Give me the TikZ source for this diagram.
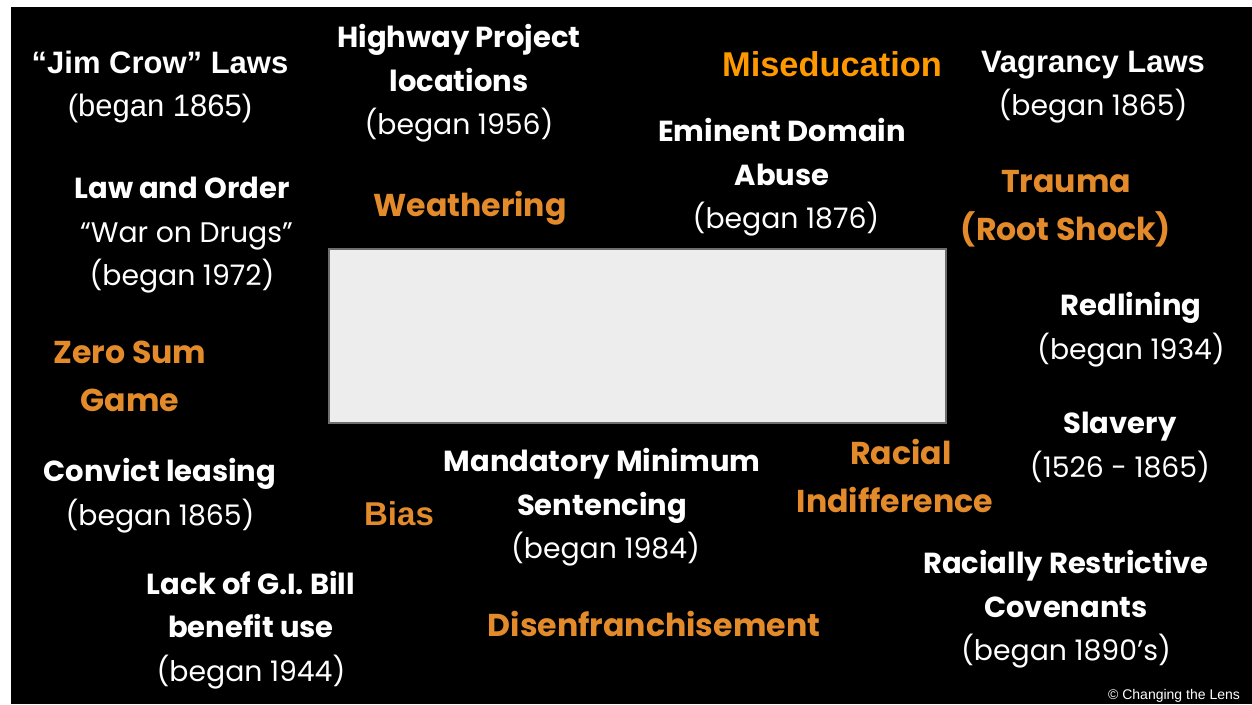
\documentclass[tikz,border=0pt]{standalone}
\usepackage{fontspec}
\setmainfont{Poppins}
\newfontfamily\arialf{Liberation Sans}
\definecolor{orA}{HTML}{FF9900}
\definecolor{orB}{HTML}{E38A2B}
\definecolor{boxfill}{HTML}{EDEDED}
\definecolor{boxline}{HTML}{6E6E6E}
\newcommand\boldline[1]{{\bfseries\fontsize{29}{43.5}\selectfont #1}}
\tikzset{
  lbl/.style={text=white, align=center, inner sep=0pt, font=\fontsize{28.3}{43.5}\selectfont},
  arl/.style={text=white, align=center, inner sep=0pt, font=\arialf\fontsize{31}{43}\selectfont},
  orw/.style={text=orB, align=center, inner sep=0pt, font=\bfseries\fontsize{31.6}{48}\selectfont},
  ora/.style={text=orA, align=center, inner sep=0pt, font=\arialf\bfseries\fontsize{34.4}{48}\selectfont},
  orab/.style={text=orB, align=center, inner sep=0pt, font=\arialf\bfseries\fontsize{33}{48}\selectfont},
}
\begin{document}
\begin{tikzpicture}[x=1pt,y=-1pt]
\useasboundingbox (0,0) rectangle (1252,704);
\fill[white] (0,0) rectangle (1252,704);
\fill[black] (11,7) rectangle (1252,704);
\node[draw=boxline, line width=1.5pt, fill=boxfill, minimum width=617pt, minimum height=174pt, inner sep=0pt] (box) at (637.5,336) {};

\node[arl] (jim) at (160,87) {{\bfseries “Jim Crow” Laws}\\(began 1865)};
\node[lbl] (highway) at (459,83.5) {\boldline{Highway Project}\\\boldline{locations}\\(began 1956)};
\node[ora] (misedu) at (832,64) {Miseducation};
\node[lbl] (vagrancy) at (1093,87) {{\arialf\bfseries\fontsize{31}{43}\selectfont Vagrancy Laws}\\(began 1865)};
\node[lbl] (eminent) at (782,177.5) {\boldline{Eminent Domain}\\\boldline{Abuse}\\\hspace*{8pt}(began 1876)};
\node[lbl] (law) at (182,235.5) {\boldline{Law and Order}\\\hspace*{9pt}“War on Drugs”\\(began 1972)};
\node[orw] (weathering) at (470,208) {Weathering};
\node[orw] (trauma) at (1066,209) {Trauma\\(Root Shock)};
\node[lbl] (redlining) at (1131,329.5) {\boldline{Redlining}\\(began 1934)};
\node[orw] (zerosum) at (130,376) {Zero Sum\\Game};
\node[lbl] (slavery) at (1120,447.5) {\boldline{Slavery}\\(1526 - 1865)};
\node[orw] (racial) at (895,476) {\hspace*{12pt}Racial\\Indifference};
\node[lbl] (convict) at (160,495.5) {\boldline{Convict leasing}\\(began 1865)};
\node[orab] (bias) at (399,514) {Bias};
\node[lbl] (mandatory) at (602,507.5) {\boldline{Mandatory Minimum}\\\boldline{Sentencing}\\\hspace*{7pt}(began 1984)};
\node[lbl] (racially) at (1066,609.5) {\boldline{Racially Restrictive}\\\boldline{Covenants}\\(began 1890’s)};
\node[lbl] (lack) at (251,630) {\boldline{Lack of G.I. Bill}\\\boldline{benefit use}\\(began 1944)};
\node[orw] (disen) at (654,624) {Disenfranchisement};
\node[text=white, inner sep=0pt, font=\arialf\fontsize{14}{16}\selectfont] (copy) at (1174,696) {© Changing the Lens};
\end{tikzpicture}
\end{document}
